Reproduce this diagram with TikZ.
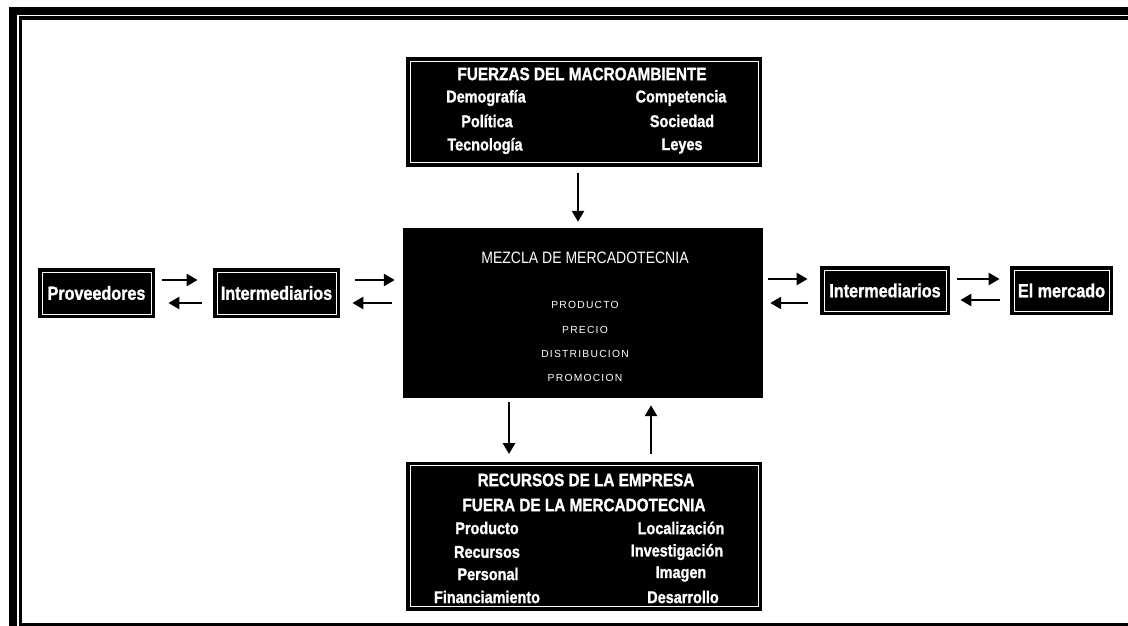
\documentclass[tikz,border=0pt]{standalone}
\usepackage{fontspec}
\setmainfont{Liberation Sans}
\newfontfamily\narrowfont[FakeStretch=0.85]{Liberation Sans}
\newfontfamily\heavyfont[FakeStretch=0.85, BoldFeatures={FakeBold=1.2}]{Liberation Sans}
\newfontfamily\spacedfont[LetterSpace=12]{Liberation Sans}
\usetikzlibrary{arrows.meta,calc}

\tikzset{
  darkbox/.style={fill=black, draw=white, line width=0.8pt,
    preaction={draw=black, line width=8pt}, inner sep=0pt},
  plainbox/.style={fill=black, draw=black, inner sep=0pt},
  sidetext/.style={text=white, inner sep=0pt,
    font=\heavyfont\bfseries\fontsize{19}{20}\selectfont},
  headtext/.style={text=white, inner sep=0pt,
    font=\heavyfont\bfseries\fontsize{18}{19}\selectfont},
  itemtext/.style={text=white, inner sep=0pt,
    font=\heavyfont\bfseries\fontsize{17}{18}\selectfont},
  mixhead/.style={text=white, inner sep=0pt,
    font=\narrowfont\fontsize{16.5}{18}\selectfont},
  mixitem/.style={text=white, inner sep=0pt,
    font=\spacedfont\fontsize{10.3}{12}\selectfont},
  arr/.style={draw=black, line width=2.6pt,
    -{Triangle[length=11pt,width=12pt]}},
}

\begin{document}
\begin{tikzpicture}[x=1pt, y=-1pt]
\useasboundingbox (0,0) rectangle (1128,626);

% page frame: heavy rule on top and left, thin rule at the bottom
\fill[black] (9,7) rectangle (1128,20);
\fill[black] (9,7) rectangle (22,626);
\fill[black] (9,622.5) rectangle (1128,626);
\draw[white, line width=1.4pt] (18,626) -- (18,15.7) -- (1128,15.7);

% macro-environment forces
\node[darkbox, minimum width=348pt, minimum height=101pt] (fuerzas) at (584,112) {};
\node[headtext] (ftitle) at (582,74) {FUERZAS DEL MACROAMBIENTE};
\node[itemtext] (f1) at (486,98) {Demografía};
\node[itemtext] (f2) at (487,121) {Política};
\node[itemtext] (f3) at (485,146) {Tecnología};
\node[itemtext] (f4) at (681,98) {Competencia};
\node[itemtext] (f5) at (682,121) {Sociedad};
\node[itemtext] (f6) at (682,146) {Leyes};

% marketing mix
\node[plainbox, minimum width=359pt, minimum height=169pt] (mezcla) at (582.5,312.5) {};
\node[mixhead] (mtitle) at (585,258) {MEZCLA DE MERCADOTECNIA};
\node[mixitem] (m1) at (585,305) {PRODUCTO};
\node[mixitem] (m2) at (585,330) {PRECIO};
\node[mixitem] (m3) at (585,354) {DISTRIBUCION};
\node[mixitem] (m4) at (585,378) {PROMOCION};

% company resources
\node[darkbox, minimum width=348pt, minimum height=141pt] (recursos) at (584,536) {};
\node[headtext] (rtitle1) at (586,480) {RECURSOS DE LA EMPRESA};
\node[headtext] (rtitle2) at (584,505) {FUERA DE LA MERCADOTECNIA};
\node[itemtext] (r1) at (487,528) {Producto};
\node[itemtext] (r2) at (487,552) {Recursos};
\node[itemtext] (r3) at (488,574) {Personal};
\node[itemtext] (r4) at (487,597) {Financiamiento};
\node[itemtext] (r5) at (681,528) {Localización};
\node[itemtext] (r6) at (677,552) {Investigación};
\node[itemtext] (r7) at (681,574) {Imagen};
\node[itemtext] (r8) at (683,597) {Desarrollo};

% supply chain boxes
\node[darkbox, minimum width=109pt, minimum height=42pt] (prov) at (96.5,293) {};
\node[sidetext] (provt) at (prov.center) {Proveedores};
\node[darkbox, minimum width=119pt, minimum height=42pt] (intl) at (276.5,293) {};
\node[sidetext] (intlt) at (intl.center) {Intermediarios};
\node[darkbox, minimum width=122pt, minimum height=41pt] (intr) at (885,290.5) {};
\node[sidetext] (intrt) at (intr.center) {Intermediarios};
\node[darkbox, minimum width=95pt, minimum height=41pt] (merc) at (1061.5,290.5) {};
\node[sidetext] (merct) at (merc.center) {El mercado};

% vertical connectors
\draw[arr] ([xshift=-6pt,yshift=-10pt]fuerzas.south)
  -- ([xshift=-6pt,yshift=6pt]fuerzas.south |- mezcla.north);
\draw[arr] ([xshift=-73.5pt,yshift=-5pt]mezcla.south)
  -- ([xshift=-73.5pt,yshift=11pt]mezcla.south |- recursos.north);
\draw[arr] ([xshift=68.5pt,yshift=11pt]mezcla.south |- recursos.north)
  -- ([xshift=68.5pt,yshift=-8pt]mezcla.south);

% horizontal connectors, left side
\draw[arr] ([xshift=11pt,yshift=13pt]prov.east) -- ([xshift=-19pt,yshift=13pt]intl.west);
\draw[arr] ([xshift=-15pt,yshift=-10pt]intl.west) -- ([xshift=17pt,yshift=-10pt]prov.east);
\draw[arr] ([xshift=19pt,yshift=13pt]intl.east) -- ([xshift=-8pt,yshift=13pt]intl.east -| mezcla.west);
\draw[arr] ([xshift=-11pt,yshift=-10pt]intl.east -| mezcla.west) -- ([xshift=16pt,yshift=-10pt]intl.east);

% horizontal connectors, right side
\draw[arr] ([xshift=6pt,yshift=11.5pt]intr.west -| mezcla.east) -- ([xshift=-16pt,yshift=11.5pt]intr.west);
\draw[arr] ([xshift=-16pt,yshift=-12.5pt]intr.west) -- ([xshift=8pt,yshift=-12.5pt]intr.west -| mezcla.east);
\draw[arr] ([xshift=11pt,yshift=11.5pt]intr.east) -- ([xshift=-14pt,yshift=11.5pt]merc.west);
\draw[arr] ([xshift=-14pt,yshift=-9.5pt]merc.west) -- ([xshift=14pt,yshift=-9.5pt]intr.east);
\end{tikzpicture}
\end{document}
